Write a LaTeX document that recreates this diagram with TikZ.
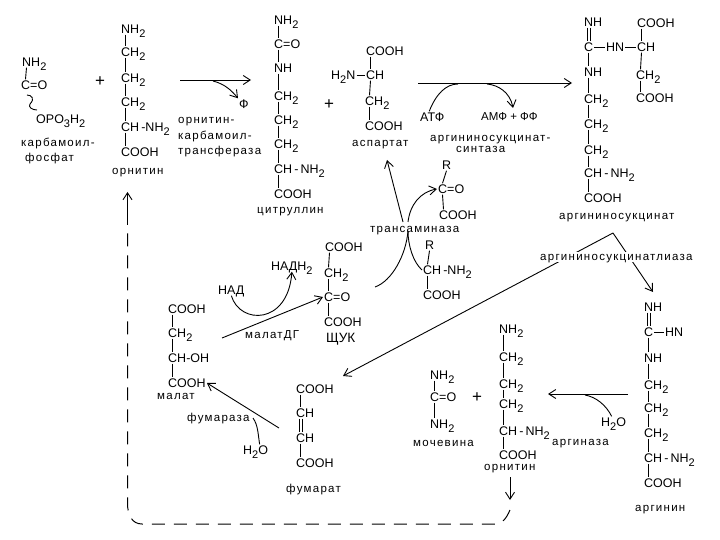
\documentclass[tikz,border=0pt]{standalone}
\usepackage{fontspec}
\setmainfont{Liberation Sans}
\newfontfamily\lblfont[LetterSpace=11]{Liberation Sans}
\usetikzlibrary{arrows.meta}
\newcommand{\sbs}[1]{\raisebox{-4pt}{\fontsize{11}{12}\selectfont #1}}
\newcommand{\At}[4]{\node[atom] (#1) at (#2,#3) {#4};}
\newcommand{\Lb}[4]{\node[lbl] (#1) at (#2,#3) {#4};}
\newcommand{\Bd}[2]{\draw[bond] ([xshift=5.5pt]#1.south west) -- ([xshift=5.5pt]#2.north west);}
\newcommand{\Cd}[3]{\coordinate (#1) at (#2,#3);}
\tikzset{
  atom/.style={anchor=west,inner sep=1pt,text height=9pt,text depth=0pt,font=\fontsize{12.5}{14}\selectfont},
  lbl/.style={anchor=west,inner sep=0pt,text height=7pt,text depth=1pt,font=\lblfont\fontsize{11.5}{13}\selectfont},
  pluss/.style={anchor=center,inner sep=0pt,font=\fontsize{17}{18}\selectfont},
  bond/.style={line width=0.9pt},
  rxn/.style={line width=0.9pt,-{Straight Barb[length=7pt,width=9pt]}},
  plain/.style={line width=0.9pt},
  loopline/.style={line width=1pt,dash pattern=on 13pt off 9pt}
}
\begin{document}
\begin{tikzpicture}[x=1pt,y=-1pt]
\useasboundingbox (0,0) rectangle (720,540);
% carbamoyl phosphate
\At{cpN}{21}{62}{NH\sbs{2}}
\At{cpC}{20}{85}{C=O}
\At{cpO}{35}{119}{OPO\sbs{3}H\sbs{2}}
\Lb{cpa}{21}{144}{карбамоил-}
\Lb{cpb}{25}{159}{фосфат}
\Bd{cpN}{cpC}
\Cd{w1}{27}{95}\Cd{w2}{37}{110}
\draw[plain] (w1) .. controls (32,95) and (35,99) .. (30,104) .. controls (28,107) and (32,110) .. (w2);
\node[pluss] (pl1) at (100,82) {+};
% ornithine 1
\At{o1a}{120}{29}{NH\sbs{2}}
\At{o1b}{120}{52}{CH\sbs{2}}
\At{o1c}{120}{78}{CH\sbs{2}}
\At{o1d}{120}{102}{CH\sbs{2}}
\At{o1e}{120}{127}{CH\,-NH\sbs{2}}
\At{o1f}{120}{152}{COOH}
\Lb{o1l}{112}{172}{орнитин}
\Bd{o1a}{o1b}\Bd{o1b}{o1c}\Bd{o1c}{o1d}\Bd{o1d}{o1e}\Bd{o1e}{o1f}
% OTC
\Cd{r1s}{180}{80}\Cd{r1e}{251}{80}\Cd{r1m}{213}{81}
\draw[rxn] (r1s) -- (r1e);
\At{phi}{238}{104}{Ф}
\draw[rxn] (r1m) .. controls (225,84) and (232,91) .. (phi.north west);
\Lb{otca}{178}{121}{орнитин-}
\Lb{otcb}{178}{137}{карбамоил-}
\Lb{otcc}{178}{152}{трансфераза}
% citrulline
\At{ca}{273}{20}{NH\sbs{2}}
\At{cb}{273}{44}{C=O}
\At{cc}{273}{68}{NH}
\At{cd}{273}{96}{CH\sbs{2}}
\At{ce}{273}{120}{CH\sbs{2}}
\At{cf}{273}{144}{CH\sbs{2}}
\At{cg}{273}{169}{CH\,-\,NH\sbs{2}}
\At{ch}{273}{194}{COOH}
\Lb{cl}{257}{211}{цитруллин}
\Bd{ca}{cb}\Bd{cb}{cc}\Bd{cc}{cd}\Bd{cd}{ce}\Bd{ce}{cf}\Bd{cf}{cg}\Bd{cg}{ch}
\node[pluss] (pl2) at (329,105) {+};
% aspartate
\At{aa}{365}{51}{COOH}
\At{ab}{365}{75}{CH}
\At{an}{330}{75}{H\sbs{2}N}
\At{ac}{364}{101}{CH\sbs{2}}
\At{ad}{364}{126}{COOH}
\Lb{al}{352}{144}{аспартат}
\Bd{aa}{ab}\Bd{ab}{ac}\Bd{ac}{ad}
\draw[bond] (an.east) -- (ab.west);
% synthase
\Cd{r2s}{418}{83}\Cd{r2e}{572}{83}\Cd{r2a}{458}{84}\Cd{r2b}{487}{84}
\draw[rxn] (r2s) -- (r2e);
\At{atp}{419}{117}{АТФ}
\At{amp}{480}{116}{\fontsize{11.5}{13}\selectfont АМФ + ФФ}
\draw[plain] ([xshift=-3pt]atp.north) .. controls (436,94) and (446,84) .. (r2a);
\draw[rxn] (r2b) .. controls (498,85) and (510,92) .. (513,108);
\Lb{ssa}{430}{139}{аргининосукцинат-}
\Lb{ssb}{456}{150}{синтаза}
% argininosuccinate
\At{asa}{583}{22}{NH}
\At{asb}{583}{47}{C}
\At{ash}{605}{47}{HN}
\At{asc}{636}{23}{COOH}
\At{asd}{636}{47}{CH}
\At{ase}{635}{75}{CH\sbs{2}}
\At{asf}{635}{98}{COOH}
\At{asg}{583}{72}{NH}
\At{asi}{583}{99}{CH\sbs{2}}
\At{asj}{583}{124}{CH\sbs{2}}
\At{ask}{583}{150}{CH\sbs{2}}
\At{asm}{583}{173}{CH\,-\,NH\sbs{2}}
\At{asn}{583}{198}{COOH}
\Lb{asl}{559}{216}{аргининосукцинат}
\draw[bond] ([xshift=4.5pt]asa.south west) -- ([xshift=4.5pt]asb.north west);
\draw[bond] ([xshift=7pt]asa.south west) -- ([xshift=7pt]asb.north west);
\draw[bond] (asb) -- (ash);
\draw[bond] (ash) -- (asd);
\Bd{asc}{asd}\Bd{asd}{ase}\Bd{ase}{asf}
\Bd{asb}{asg}\Bd{asg}{asi}\Bd{asi}{asj}\Bd{asj}{ask}\Bd{ask}{asm}\Bd{asm}{asn}
% ketoacid
\At{ka}{441}{165}{R}
\At{kb}{437}{189}{C=O}
\At{kc}{438}{215}{COOH}
\Bd{ka}{kb}\Bd{kb}{kc}
\Lb{tr}{370}{230}{трансаминаза}
\At{ama}{424}{245}{R}
\At{amb}{422}{270}{CH\,-NH\sbs{2}}
\At{amc}{422}{295}{COOH}
\Bd{ama}{amb}\Bd{amb}{amc}
\Cd{t1}{403}{222}\Cd{t1e}{387}{160}\Cd{t2}{408}{222}\Cd{t3}{408}{231}\Cd{t4}{375}{287}
\draw[rxn] (t1) -- (t1e);
\draw[rxn] (t2) .. controls (410,205) and (420,192) .. (kb.west);
\draw[plain] (t3) .. controls (406,255) and (392,281) .. (t4);
\draw[plain] (t3) .. controls (408,245) and (413,262) .. (amb.west);
% lyase
\Cd{lp}{613}{233}\Cd{lf}{343}{376}\Cd{la}{653}{292}
\draw[rxn] (lp) -- (lf);
\draw[rxn] (lp) -- (la);
\node[lbl,fill=white,inner ysep=1pt] (ly) at (540,257) {аргининосукцинатлиаза};
% OAA
\At{oa}{324}{247}{COOH}
\At{ob}{323}{273}{CH\sbs{2}}
\At{oc}{323}{297}{C=O}
\At{od}{323}{322}{COOH}
\At{nadh}{270}{266}{НАДН\sbs{2}}
\node[atom,font=\fontsize{13.5}{15}\selectfont] (shuk) at (325,338) {ЩУК};
\Bd{oa}{ob}\Bd{ob}{oc}\Bd{oc}{od}
\At{nad}{217}{290}{НАД}
\Cd{md}{222}{338}
\draw[rxn] (nad.south) .. controls (240,325) and (288,325) .. (nadh.south);
\draw[rxn] (md) -- (oc.west);
\Lb{mdl}{245}{335}{малатДГ}
% malate
\At{ma}{167}{309}{COOH}
\At{mb}{167}{333}{CH\sbs{2}}
\At{mc}{167}{358}{CH-OH}
\At{me}{167}{383}{COOH}
\Lb{ml}{157}{396}{малат}
\Bd{ma}{mb}\Bd{mb}{mc}\Bd{mc}{me}
% fumarase
\Lb{fl}{187}{418}{фумараза}
\At{wa}{242}{450}{H\sbs{2}O}
\Cd{fs}{279}{428}\Cd{fm}{253}{418}
\draw[rxn] (fs) -- (me.east);
\draw[plain] ([xshift=4pt]wa.north) .. controls (258,434) and (258,425) .. (fm);
% fumarate
\At{fa}{295}{389}{COOH}
\At{fb}{295}{413}{CH}
\At{fc}{295}{438}{CH}
\At{fd}{295}{463}{COOH}
\Lb{fu}{286}{489}{фумарат}
\Bd{fa}{fb}\Bd{fc}{fd}
\draw[bond] ([xshift=4.5pt]fb.south west) -- ([xshift=4.5pt]fc.north west);
\draw[bond] ([xshift=7pt]fb.south west) -- ([xshift=7pt]fc.north west);
% urea
\At{ua}{429}{375}{NH\sbs{2}}
\At{ub}{429}{397}{C=O}
\At{uc}{429}{424}{NH\sbs{2}}
\Lb{ul}{413}{443}{мочевина}
\Bd{ua}{ub}\Bd{ub}{uc}
\node[pluss] (pl3) at (477,398) {+};
% ornithine 2
\At{p1}{498}{329}{NH\sbs{2}}
\At{p2}{498}{357}{CH\sbs{2}}
\At{p3}{498}{384}{CH\sbs{2}}
\At{p4}{498}{404}{CH\sbs{2}}
\At{p5}{498}{431}{CH\,-\,NH\sbs{2}}
\At{p6}{498}{455}{COOH}
\Lb{p7}{484}{467}{орнитин}
\Bd{p1}{p2}\Bd{p2}{p3}\Bd{p3}{p4}\Bd{p4}{p5}\Bd{p5}{p6}
% arginase
\Cd{gs}{628}{394}\Cd{ge}{548}{394}\Cd{gm}{585}{395}
\draw[rxn] (gs) -- (ge);
\At{gw}{600}{422}{H\sbs{2}O}
\draw[plain] (gm) .. controls (596,397) and (606,405) .. ([xshift=-2pt]gw.north);
\Lb{gl}{552}{442}{аргиназа}
% arginine
\At{ra}{643}{307}{NH}
\At{rb}{643}{332}{C}
\At{rh}{664}{332}{HN}
\At{rc}{643}{358}{NH}
\At{rd}{643}{385}{CH\sbs{2}}
\At{re}{643}{408}{CH\sbs{2}}
\At{rf}{643}{433}{CH\sbs{2}}
\At{rg}{643}{458}{CH\,-\,NH\sbs{2}}
\At{ri}{643}{483}{COOH}
\Lb{rl}{635}{508}{аргинин}
\draw[bond] ([xshift=4.5pt]ra.south west) -- ([xshift=4.5pt]rb.north west);
\draw[bond] ([xshift=7pt]ra.south west) -- ([xshift=7pt]rb.north west);
\draw[bond] (rb) -- (rh);
\Bd{rb}{rc}\Bd{rc}{rd}\Bd{rd}{re}\Bd{re}{rf}\Bd{rf}{rg}\Bd{rg}{ri}
% ornithine recycling
\Cd{ps}{510}{477}\Cd{pe}{510}{500}
\draw[rxn] (ps) -- (pe);
\Cd{ls}{510}{510}\Cd{le}{127.5}{225}\Cd{lu}{127.5}{192}
\draw[loopline] (ls) .. controls (506,519) and (502,524) .. (495,524) -- (142,524) .. controls (132,524) and (127.5,515) .. (127.5,503) -- (le);
\draw[rxn] (le) -- (lu);
\end{tikzpicture}
\end{document}
